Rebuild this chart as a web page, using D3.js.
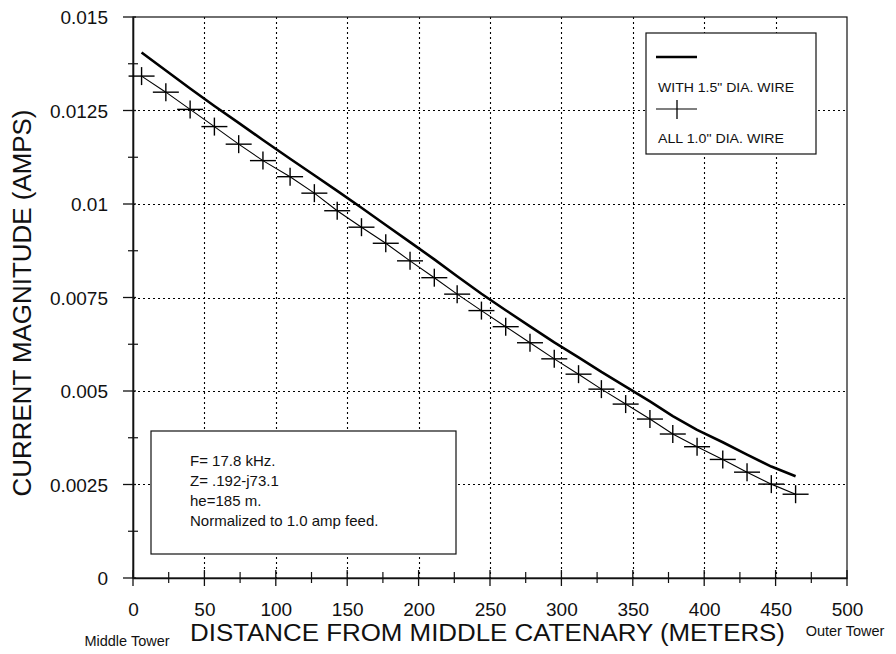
<!DOCTYPE html>
<html>
<head>
<meta charset="utf-8">
<script src="https://cdn.jsdelivr.net/npm/d3@7"></script>
<style>
  html, body { margin: 0; padding: 0; background: #fff; }
  svg { display: block; font-family: Arial, "Liberation Sans", Helvetica, sans-serif; }
</style>
</head>
<body>
<svg id="chart" width="896" height="654"></svg>
<script>
// ---------- data ----------
const distances = [6, 23, 40, 57, 74, 91, 110, 127, 143, 160, 177, 194, 211, 227,
                   244, 261, 278, 295, 312, 328, 345, 362, 378, 395, 413, 430, 447, 464];
const wire15 = [0.01405, 0.01357, 0.01309, 0.01262, 0.01217, 0.01171, 0.01121, 0.01077,
                0.01035, 0.00990, 0.00944, 0.00898, 0.00852, 0.00807, 0.00760, 0.00716,
                0.00673, 0.00630, 0.00590, 0.00551, 0.00512, 0.00472, 0.00433, 0.00396,
                0.00363, 0.00330, 0.00298, 0.00272];
const wire10 = [0.01342, 0.01299, 0.01253, 0.01207, 0.01160, 0.01116, 0.01073, 0.01029,
                0.00982, 0.00938, 0.00895, 0.00848, 0.00803, 0.00759, 0.00715, 0.00672,
                0.00629, 0.00586, 0.00545, 0.00505, 0.00465, 0.00425, 0.00385, 0.00351,
                0.00317, 0.00283, 0.00251, 0.00224];
const xTicks = [0, 50, 100, 150, 200, 250, 300, 350, 400, 450, 500];
const xMinorTicks = [25, 75, 125, 175, 225, 275, 325, 375, 425, 475];
const yTicks = [0, 0.0025, 0.005, 0.0075, 0.01, 0.0125, 0.015];
const yTickLabels = ["0", "0.0025", "0.005", "0.0075", "0.01", "0.0125", "0.015"];
const yMinorTicks = [0.00125, 0.00375, 0.00625, 0.00875, 0.01125, 0.01375];
const legendLabels = ["WITH 1.5\" DIA. WIRE", "ALL 1.0\" DIA. WIRE"];
const noteLines = ["F= 17.8 kHz.", "Z= .192-j73.1", "he=185 m.", "Normalized to 1.0 amp feed."];
const xTitle = "DISTANCE FROM MIDDLE CATENARY (METERS)";
const yTitle = "CURRENT MAGNITUDE (AMPS)";
const xEndLabels = ["Middle Tower", "Outer Tower"];

// ---------- layout ----------
const svg = d3.select("#chart");
const L = 133, R = 847, T = 17, B = 578;
const x = d3.scaleLinear().domain([0, 500]).range([L, R]);
const y = d3.scaleLinear().domain([0, 0.015]).range([B, T]);
const px = v => Math.round(v) + 0.5;

// grid
const grid = svg.append("g").attr("stroke", "#000").attr("stroke-width", 1.1)
  .attr("stroke-dasharray", "2,3");
grid.selectAll("line.gx").data(xTicks.slice(1, -1)).join("line").attr("class", "gx")
  .attr("x1", d => px(x(d))).attr("x2", d => px(x(d))).attr("y1", T).attr("y2", B);
grid.selectAll("line.gy").data(yTicks.slice(1, -1)).join("line").attr("class", "gy")
  .attr("y1", d => px(y(d))).attr("y2", d => px(y(d))).attr("x1", L).attr("x2", R);

// frame
svg.append("rect").attr("x", L).attr("y", T).attr("width", R - L).attr("height", B - T)
  .attr("fill", "none").attr("stroke", "#111").attr("stroke-width", 1.2);

// axes with crossing ticks
const xAxis = d3.axisBottom(x).tickValues(xTicks).tickSize(0).tickPadding(0)
  .tickFormat(d3.format("d"));
const gx = svg.append("g").attr("transform", `translate(0,${B})`).call(xAxis);
gx.select(".domain").attr("stroke", "#111").attr("stroke-width", 1.6);
gx.selectAll(".tick text").attr("y", 38).attr("dy", 0).attr("font-size", 19).attr("fill", "#111")
  .attr("font-family", "Arial, 'Liberation Sans', sans-serif");
gx.selectAll(".tick line").remove();
svg.append("g").attr("stroke", "#111").attr("stroke-width", 1.3)
  .selectAll("line").data(xTicks).join("line")
  .attr("x1", d => x(d)).attr("x2", d => x(d)).attr("y1", B - 8).attr("y2", B + 8);
svg.append("g").attr("stroke", "#111").attr("stroke-width", 1.2)
  .selectAll("line").data(xMinorTicks).join("line")
  .attr("x1", d => x(d)).attr("x2", d => x(d)).attr("y1", B - 6).attr("y2", B + 5);

const yAxis = d3.axisLeft(y).tickValues(yTicks).tickSize(0).tickPadding(0)
  .tickFormat((d, i) => yTickLabels[i]);
const gy = svg.append("g").attr("transform", `translate(${L},0)`).call(yAxis);
gy.select(".domain").attr("stroke", "#111").attr("stroke-width", 1.6);
gy.selectAll(".tick text").attr("x", -25).attr("dy", "0.36em").attr("font-size", 19).attr("fill", "#111")
  .attr("font-family", "Arial, 'Liberation Sans', sans-serif");
gy.selectAll(".tick line").remove();
svg.append("g").attr("stroke", "#111").attr("stroke-width", 1.3)
  .selectAll("line").data(yTicks).join("line")
  .attr("y1", d => y(d)).attr("y2", d => y(d)).attr("x1", L - 10).attr("x2", L + 3);
svg.append("g").attr("stroke", "#111").attr("stroke-width", 1.2)
  .selectAll("line").data(yMinorTicks).join("line")
  .attr("y1", d => y(d)).attr("y2", d => y(d)).attr("x1", L - 5).attr("x2", L + 5);

// series
const line = d3.line().x(d => x(d[0])).y(d => y(d[1]));
const s15 = distances.map((d, i) => [d, wire15[i]]);
const s10 = distances.map((d, i) => [d, wire10[i]]);
svg.append("path").datum(s15).attr("d", line).attr("fill", "none")
  .attr("stroke", "#000").attr("stroke-width", 2.6).attr("stroke-linejoin", "round");
svg.append("path").datum(s10).attr("d", line).attr("fill", "none")
  .attr("stroke", "#000").attr("stroke-width", 1.1);
const cross = svg.append("g").attr("stroke", "#000").attr("stroke-width", 1.4);
cross.selectAll("line.h").data(s10).join("line").attr("class", "h")
  .attr("x1", d => x(d[0]) - 13).attr("x2", d => x(d[0]) + 13)
  .attr("y1", d => y(d[1])).attr("y2", d => y(d[1]));
cross.selectAll("line.v").data(s10).join("line").attr("class", "v")
  .attr("x1", d => x(d[0])).attr("x2", d => x(d[0]))
  .attr("y1", d => y(d[1]) - 9).attr("y2", d => y(d[1]) + 9);

// legend box
const lg = svg.append("g");
lg.append("rect").attr("x", 646).attr("y", 33).attr("width", 170).attr("height", 121)
  .attr("fill", "#fff").attr("stroke", "#111").attr("stroke-width", 1.2);
lg.append("line").attr("x1", 656).attr("x2", 697).attr("y1", 57).attr("y2", 57)
  .attr("stroke", "#000").attr("stroke-width", 2.6);
lg.append("text").attr("x", 658).attr("y", 92).attr("font-size", 13)
  .attr("textLength", 136).attr("lengthAdjust", "spacingAndGlyphs").attr("fill", "#111").text(legendLabels[0]);
lg.append("line").attr("x1", 656).attr("x2", 697).attr("y1", 109).attr("y2", 109)
  .attr("stroke", "#000").attr("stroke-width", 1.2);
lg.append("line").attr("x1", 677).attr("x2", 677).attr("y1", 100).attr("y2", 119)
  .attr("stroke", "#000").attr("stroke-width", 1.3);
lg.append("text").attr("x", 658).attr("y", 143).attr("font-size", 13)
  .attr("textLength", 126).attr("lengthAdjust", "spacingAndGlyphs").attr("fill", "#111").text(legendLabels[1]);

// annotation box
const nb = svg.append("g");
nb.append("rect").attr("x", 151).attr("y", 431).attr("width", 305).attr("height", 123)
  .attr("fill", "#fff").attr("stroke", "#111").attr("stroke-width", 1.2);
nb.selectAll("text").data(noteLines).join("text")
  .attr("x", 190).attr("y", (d, i) => 466 + i * 20)
  .attr("font-size", 15).attr("fill", "#111").text(d => d);

// titles
svg.append("text").attr("x", 190).attr("y", 641).attr("font-size", 23)
  .attr("textLength", 595).attr("lengthAdjust", "spacingAndGlyphs").attr("fill", "#111").text(xTitle);
svg.append("text").attr("transform", "translate(31,303) rotate(-90)").attr("text-anchor", "middle")
  .attr("font-size", 25).attr("textLength", 387).attr("lengthAdjust", "spacingAndGlyphs")
  .attr("fill", "#111").text(yTitle);
svg.append("text").attr("x", x(0) - 6).attr("y", 646).attr("text-anchor", "middle")
  .attr("font-size", 14.5).attr("fill", "#111").text(xEndLabels[0]);
svg.append("text").attr("x", x(500) - 2).attr("y", 636).attr("text-anchor", "middle")
  .attr("font-size", 14.5).attr("fill", "#111").text(xEndLabels[1]);
</script>
</body>
</html>
